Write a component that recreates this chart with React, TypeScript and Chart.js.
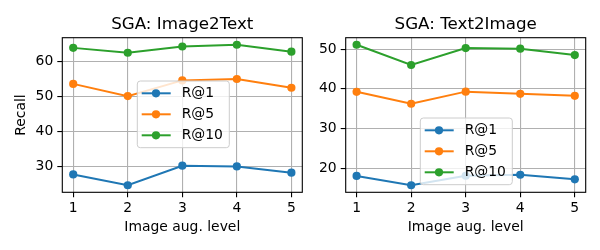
import React, { useEffect, useRef } from 'react';
import { Chart, registerables } from 'chart.js';

Chart.register(...registerables);

// ---- data ----
const levels = [1, 2, 3, 4, 5];
const seriesLabels = ['R@1', 'R@5', 'R@10'];
const seriesColors = ['#1f77b4', '#ff7f0e', '#2ca02c'];

const i2tR1 = [27.7, 24.6, 30.2, 30.0, 28.2];
const i2tR5 = [53.6, 50.1, 54.6, 55.0, 52.5];
const i2tR10 = [63.9, 62.5, 64.3, 64.8, 62.8];

const t2iR1 = [18.1, 15.75, 18.15, 18.4, 17.25];
const t2iR5 = [39.25, 36.25, 39.3, 38.75, 38.25];
const t2iR10 = [51.1, 46.0, 50.25, 50.1, 48.5];

const xTicks = [1, 2, 3, 4, 5];
const i2tYTicks = [30, 40, 50, 60];
const t2iYTicks = [20, 30, 40, 50];

const FONT = 'DejaVu Sans';
const TICK_SIZE = 13.9;
const TITLE_SIZE = 16.7;

type Panel = {
  title: string;
  yTitle: string | null;
  series: number[][];
  yTicks: number[];
  left: number;
  width: number;
  yAxisWidth: number;
  padRight: number;
  legendDx: number;
  legendDy: number;
};

const panels: Panel[] = [
  {
    title: 'SGA: Image2Text',
    yTitle: 'Recall',
    series: [i2tR1, i2tR5, i2tR10],
    yTicks: i2tYTicks,
    left: 0,
    width: 310,
    yAxisWidth: 62.3,
    padRight: 7.7,
    legendDx: 75,
    legendDy: 43.3,
  },
  {
    title: 'SGA: Text2Image',
    yTitle: null,
    series: [t2iR1, t2iR5, t2iR10],
    yTicks: t2iYTicks,
    left: 300,
    width: 300,
    yAxisWidth: 45.7,
    padRight: 14.3,
    legendDx: 74.6,
    legendDy: 80.3,
  },
];

function makePlugins(p: Panel) {
  const frame = {
    id: 'frame',
    afterDatasetsDraw(chart: any) {
      const { ctx, chartArea } = chart;
      ctx.save();
      ctx.strokeStyle = '#000';
      ctx.lineWidth = 1.1;
      ctx.strokeRect(chartArea.left, chartArea.top, chartArea.right - chartArea.left, chartArea.bottom - chartArea.top);
      ctx.restore();
    },
  };
  const title = {
    id: 'mplTitle',
    afterDraw(chart: any) {
      const { ctx, chartArea } = chart;
      ctx.save();
      ctx.font = `${TITLE_SIZE}px "${FONT}"`;
      ctx.fillStyle = '#000';
      ctx.textAlign = 'center';
      ctx.textBaseline = 'alphabetic';
      ctx.fillText(p.title, (chartArea.left + chartArea.right) / 2, chartArea.top - 8.3);
      ctx.restore();
    },
  };
  const legend = {
    id: 'mplLegend',
    afterDraw(chart: any) {
      const { ctx, chartArea } = chart;
      const x0 = chartArea.left + p.legendDx;
      const y0 = chartArea.top + p.legendDy;
      const w = 92;
      const h = 66.7;
      ctx.save();
      ctx.beginPath();
      ctx.roundRect(x0, y0, w, h, 3);
      ctx.fillStyle = 'rgba(255,255,255,0.8)';
      ctx.fill();
      ctx.strokeStyle = '#cccccc';
      ctx.lineWidth = 1;
      ctx.stroke();
      chart.data.datasets.forEach((ds: any, i: number) => {
        const y = y0 + 12.3 + i * 21;
        ctx.strokeStyle = ds.borderColor;
        ctx.lineWidth = 2;
        ctx.beginPath();
        ctx.moveTo(x0 + 4.4, y);
        ctx.lineTo(x0 + 33.4, y);
        ctx.stroke();
        ctx.fillStyle = ds.borderColor;
        ctx.beginPath();
        ctx.arc(x0 + 18.7, y, 4.1, 0, Math.PI * 2);
        ctx.fill();
        ctx.fillStyle = '#000';
        ctx.font = `${TICK_SIZE}px "${FONT}"`;
        ctx.textAlign = 'left';
        ctx.textBaseline = 'middle';
        ctx.fillText(ds.label, x0 + 44.4, y + 0.5);
      });
      ctx.restore();
    },
  };
  return [frame, title, legend];
}

function ChartPanel({ p }: { p: Panel }) {
  const ref = useRef<HTMLCanvasElement>(null);
  useEffect(() => {
    if (!ref.current) return;
    const all = p.series.flat();
    const dmin = Math.min(...all);
    const dmax = Math.max(...all);
    const m = (dmax - dmin) * 0.05;
    const gridOpts = {
      color: '#b0b0b0',
      lineWidth: 1.1,
      drawTicks: true,
      tickColor: '#000',
      tickLength: 5,
      tickWidth: 1.1,
    };
    const tickFont = { family: FONT, size: TICK_SIZE };
    const chart = new Chart(ref.current, {
      type: 'line',
      data: {
        datasets: p.series.map((arr, i) => ({
          label: seriesLabels[i],
          data: levels.map((x, j) => ({ x, y: arr[j] })),
          borderColor: seriesColors[i],
          backgroundColor: seriesColors[i],
          pointBackgroundColor: seriesColors[i],
          pointBorderWidth: 0,
          pointRadius: 4.1,
          borderWidth: 2,
          tension: 0,
          fill: false,
          order: 3 - i,
        })),
      },
      options: {
        animation: false,
        responsive: false,
        events: [],
        layout: { padding: { left: 0, right: p.padRight, top: 37.7, bottom: 0 } },
        plugins: {
          legend: { display: false },
          title: { display: false },
          tooltip: { enabled: false },
        },
        scales: {
          x: {
            type: 'linear',
            min: 0.8,
            max: 5.2,
            afterBuildTicks: (s: any) => {
              s.ticks = xTicks.map((v) => ({ value: v }));
            },
            afterFit: (s: any) => {
              s.height = 57.7;
            },
            grid: gridOpts,
            border: { display: false },
            ticks: {
              color: '#000',
              font: tickFont,
              padding: 3,
              maxRotation: 0,
              autoSkip: false,
              callback: (v: any) => String(v),
            },
            title: {
              display: true,
              text: 'Image aug. level',
              color: '#000',
              font: tickFont,
              padding: { top: 0, bottom: 14 },
            },
          },
          y: {
            type: 'linear',
            min: dmin - m,
            max: dmax + m,
            afterBuildTicks: (s: any) => {
              s.ticks = p.yTicks.map((v) => ({ value: v }));
            },
            afterFit: (s: any) => {
              s.width = p.yAxisWidth;
            },
            grid: gridOpts,
            border: { display: false },
            ticks: {
              color: '#000',
              font: tickFont,
              padding: 4,
              autoSkip: false,
              callback: (v: any) => String(v),
            },
            title: {
              display: !!p.yTitle,
              text: p.yTitle || '',
              color: '#000',
              font: tickFont,
              padding: { top: 13.4, bottom: 0 },
            },
          },
        },
      },
      plugins: makePlugins(p),
    } as any);
    return () => chart.destroy();
  }, [p]);
  return (
    <div style={{ position: 'absolute', left: p.left, top: 0, width: p.width, height: 250 }}>
      <canvas ref={ref} width={p.width} height={250} style={{ display: 'block' }} />
    </div>
  );
}

export default function App() {
  return (
    <div style={{ position: 'absolute', left: 0, top: 0, width: 600, height: 250, background: '#fff' }}>
      {panels.map((p, i) => (
        <ChartPanel key={i} p={p} />
      ))}
    </div>
  );
}
